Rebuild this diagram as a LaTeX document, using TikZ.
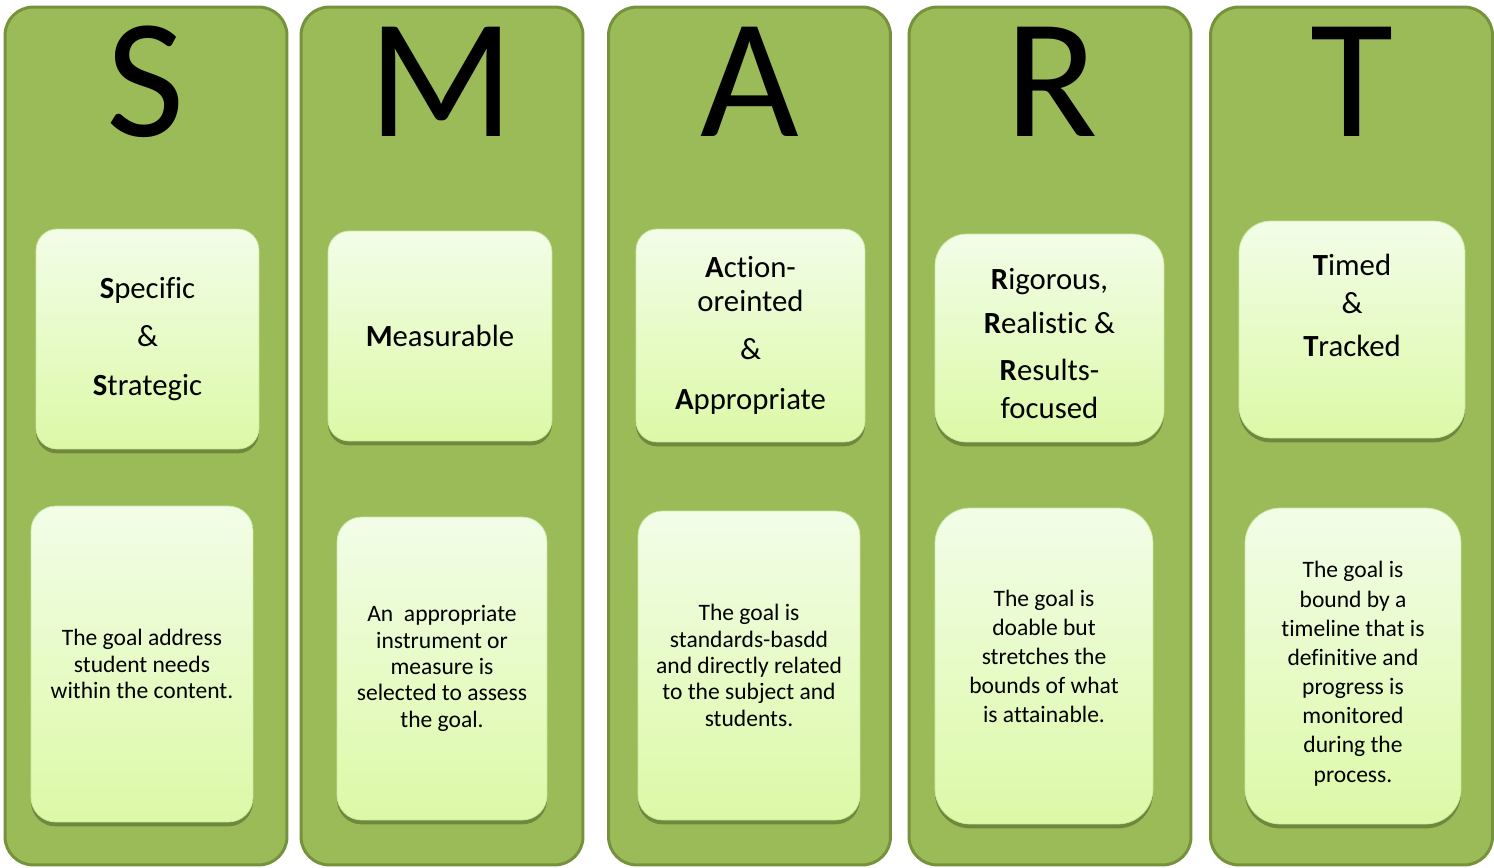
\documentclass[tikz,border=0pt]{standalone}
\usepackage{fontspec}
\setmainfont{Carlito}[Ligatures=NoCommon]
\usetikzlibrary{shadows}
\definecolor{colfill}{HTML}{9BBB59}
\definecolor{coledge}{HTML}{76923C}
\definecolor{boxtop}{HTML}{F2FDE8}
\definecolor{boxbot}{HTML}{DCF9A6}
\definecolor{boxedge}{HTML}{CDE8A0}
\tikzset{
  col/.style={draw=coledge, line width=1.7pt, fill=colfill, rounded corners=16pt,
    minimum width=5.64cm, minimum height=17.16cm},
  letter/.style={font=\fontsize{97}{100}\selectfont},
  card/.style={draw=boxedge, line width=0.4pt, top color=boxtop, bottom color=boxbot,
    drop shadow={shadow xshift=0pt, shadow yshift=-2.5pt, fill=coledge!70!black, opacity=0.6},
    align=center},
  headbox/.style={card, rounded corners=12pt, font=\fontsize{17.5}{21.5}\selectfont},
  textbox/.style={card, rounded corners=14pt, font=\fontsize{13.4}{15}\selectfont},
}
\begin{document}
\begin{tikzpicture}[x=0.02cm, y=-0.02cm]
\useasboundingbox (0,0) rectangle (1494,867);
% columns
\node[col] (colS) at (146,436) {};
\node[col] (colM) at (442,436) {};
\node[col] (colA) at (749.5,436) {};
\node[col] (colR) at (1050,436) {};
\node[col] (colT) at (1351.5,436) {};
% big letters
\node[letter] (letS) at (146,82) {S};
\node[letter] (letM) at (441,82) {M};
\node[letter] (letA) at (750,82) {A};
\node[letter] (letR) at (1052,82) {R};
\node[letter] (letT) at (1352,82) {T};
% headings
\node[headbox, minimum width=4.46cm, minimum height=4.4cm] (headS) at (147.5,339)
  {\textbf{S}pecific\\[6pt]\&\\[6pt]\textbf{S}trategic};
\node[headbox, minimum width=4.48cm, minimum height=4.2cm] (headM) at (440,336)
  {\textbf{M}easurable};
\node[headbox, minimum width=4.58cm, minimum height=4.26cm] (headA) at (750.5,335.5)
  {\textbf{A}ction-\\[-2pt]oreinted\\[6pt]\&\\[7pt]\textbf{A}ppropriate};
\node[headbox, rounded corners=18pt, minimum width=4.58cm, minimum height=4.16cm] (headR) at (1049.5,338)
  {\rule{0pt}{18pt}\textbf{R}igorous,\\[4pt]\textbf{R}ealistic \&\\[5pt]\textbf{R}esults-\\focused};
\node[headbox, rounded corners=18pt, minimum width=4.52cm, minimum height=4.34cm] (headT) at (1352,329.5)
  {\textbf{T}imed\\\&\\[3pt]\textbf{T}racked\\\strut};
% descriptions
\node[textbox, minimum width=4.44cm, minimum height=6.32cm] (descS) at (142,664)
  {The goal address\\student needs\\within the content.};
\node[textbox, minimum width=4.2cm, minimum height=6.06cm] (descM) at (442,668.5)
  {An~ appropriate\\instrument or\\measure is\\selected to assess\\the goal.};
\node[textbox, minimum width=4.44cm, minimum height=6.18cm] (descA) at (749,665.5)
  {The goal is\\standards-basdd\\and directly related\\to the subject and\\students.};
\node[textbox, rounded corners=20pt, font=\fontsize{13.4}{16.5}\selectfont,
  minimum width=4.36cm, minimum height=6.32cm] (descR) at (1044,666)
  {The goal is\\doable but\\stretches the\\bounds of what\\is attainable.\rule[-11pt]{0pt}{1pt}};
\node[textbox, rounded corners=20pt, font=\fontsize{13.4}{16.6}\selectfont,
  minimum width=4.32cm, minimum height=6.32cm] (descT) at (1353,666)
  {\rule{0pt}{18pt}The goal is\\bound by a\\timeline that is\\definitive and\\progress is\\monitored\\during the\\process.};
\end{tikzpicture}
\end{document}
